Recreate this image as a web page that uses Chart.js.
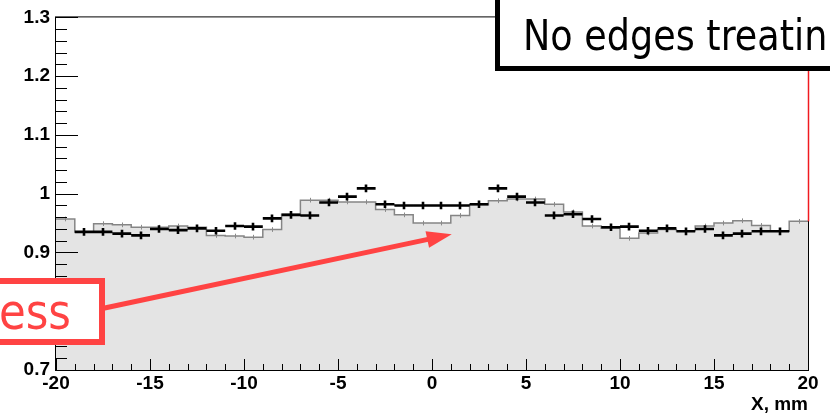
<!DOCTYPE html>
<html>
<head>
<meta charset="utf-8">
<script src="https://cdn.jsdelivr.net/npm/chart.js@4.4.1/dist/chart.umd.min.js"></script>
<style>
html, body { margin: 0; padding: 0; background: #fff; }
canvas { display: block; }
</style>
</head>
<body>
<canvas id="c" width="830" height="417"></canvas>
<script>
let canvas = document.getElementById('c');
let ctx = canvas.getContext('2d');

// simulated profile, 1 mm bins from -20 to 20 mm (left edges)
let histEdges = [-20, -19, -18, -17, -16, -15, -14, -13, -12, -11,
                 -10, -9, -8, -7, -6, -5, -4, -3, -2, -1,
                 0, 1, 2, 3, 4, 5, 6, 7, 8, 9,
                 10, 11, 12, 13, 14, 15, 16, 17, 18, 19];
let histValues = [0.957, 0.935, 0.949, 0.947, 0.943, 0.943, 0.945, 0.943, 0.929, 0.928,
                  0.926, 0.939, 0.965, 0.989, 0.989, 0.986, 0.986, 0.973, 0.964, 0.950,
                  0.950, 0.963, 0.981, 0.988, 0.991, 0.991, 0.982, 0.969, 0.945, 0.941,
                  0.924, 0.933, 0.939, 0.937, 0.945, 0.950, 0.954, 0.946, 0.936, 0.953];
let histErr = 0.004;

// measured points (bin centres)
let dataCenters = [-18.5, -17.5, -16.5, -15.5, -14.5, -13.5, -12.5, -11.5, -10.5, -9.5,
                   -8.5, -7.5, -6.5, -5.5, -4.5, -3.5, -2.5, -1.5, -0.5, 0.5,
                   1.5, 2.5, 3.5, 4.5, 5.5, 6.5, 7.5, 8.5, 9.5, 10.5,
                   11.5, 12.5, 13.5, 14.5, 15.5, 16.5, 17.5, 18.5];
let dataValues = [0.935, 0.935, 0.932, 0.929, 0.940, 0.938, 0.941, 0.937, 0.945, 0.944,
                  0.958, 0.964, 0.963, 0.985, 0.995, 1.009, 0.982, 0.980, 0.980, 0.980,
                  0.980, 0.982, 1.009, 0.995, 0.985, 0.963, 0.965, 0.957, 0.943, 0.944,
                  0.937, 0.941, 0.936, 0.940, 0.929, 0.932, 0.936, 0.936];
let dataErr = 0.0065;
let binWidth = 1;

// red edge marker at x = 20
let edgeX = 20;
let edgeRange = [0.953, 1.3];

let xTicks = [-20, -15, -10, -5, 0, 5, 10, 15, 20];
let yTicks = [0.7, 0.8, 0.9, 1.0, 1.1, 1.2, 1.3];

// arrow tip (in axis units)
let arrowTip = [1.05, 0.931];

let histPoints = histEdges.map((x, i) => ({x: x, y: histValues[i]}));
histPoints.push({x: histEdges[histEdges.length - 1] + binWidth, y: histValues[histValues.length - 1]});

let redC = '#ff4343';

function drawTicks(c, scale, ticks, horizontal, a, majorLen, minorLen){
	c.beginPath();
	for(let i = 0; i < ticks.length; i++){
		let p = scale.getPixelForValue(ticks[i]);
		let list = [[p, majorLen]];
		if(i < ticks.length - 1){
			let step = (ticks[i + 1] - ticks[i]) / 5;
			for(let j = 1; j < 5; j++) list.push([scale.getPixelForValue(ticks[i] + j * step), minorLen]);
		}
		list.forEach(t => {
			let q = Math.round(t[0]) + 0.5;
			if(horizontal){
				c.moveTo(q, a.bottom);
				c.lineTo(q, a.bottom - t[1]);
			}else{
				c.moveTo(a.left, q);
				c.lineTo(a.left + t[1], q);
			}
		});
	}
	c.stroke();
}

function scaledText(c, text, x, y, size, align){
	c.save();
	c.translate(x, y);
	c.scale(0.87, 1);
	c.font = size + 'px "DejaVu Sans", sans-serif';
	c.textAlign = align;
	c.textBaseline = 'alphabetic';
	c.fillText(text, 0, 0);
	c.restore();
}

let rootStyle = {
	id: 'rootStyle',
	afterDatasetsDraw(chart){
		let c = chart.ctx;
		let xs = chart.scales.x, ys = chart.scales.y;
		let a = chart.chartArea;
		c.save();

		// small error ticks of the grey histogram
		c.strokeStyle = '#8a8a8a';
		c.lineWidth = 1;
		c.beginPath();
		for(let i = 0; i < histEdges.length; i++){
			let px = Math.round(xs.getPixelForValue(histEdges[i] + binWidth / 2)) + 0.5;
			c.moveTo(px, ys.getPixelForValue(histValues[i] + histErr));
			c.lineTo(px, ys.getPixelForValue(histValues[i] - histErr));
		}
		c.stroke();

		// frame + inner ticks
		c.strokeStyle = '#000';
		c.lineWidth = 1;
		c.strokeRect(a.left - 0.5, a.top - 0.5, a.right - a.left + 1, a.bottom - a.top + 1);
		drawTicks(c, ys, yTicks, false, a, 22, 11);
		drawTicks(c, xs, xTicks, true, a, 11, 6);

		// measured points
		c.strokeStyle = '#000';
		c.lineWidth = 2.6;
		c.beginPath();
		for(let i = 0; i < dataCenters.length; i++){
			let x0 = xs.getPixelForValue(dataCenters[i] - binWidth / 2);
			let x1 = xs.getPixelForValue(dataCenters[i] + binWidth / 2);
			let xc = Math.round(xs.getPixelForValue(dataCenters[i]));
			let y = ys.getPixelForValue(dataValues[i]);
			c.moveTo(x0, y);
			c.lineTo(x1, y);
			c.moveTo(xc, ys.getPixelForValue(dataValues[i] + dataErr));
			c.lineTo(xc, ys.getPixelForValue(dataValues[i] - dataErr));
		}
		c.stroke();

		// red edge line, drawn over the frame's right side
		let ex = Math.round(xs.getPixelForValue(edgeX)) + 0.5;
		c.strokeStyle = '#f01a20';
		c.lineWidth = 1.5;
		c.beginPath();
		c.moveTo(ex, ys.getPixelForValue(edgeRange[0]));
		c.lineTo(ex, ys.getPixelForValue(edgeRange[1]));
		c.stroke();
		c.restore();
	},
	afterDraw(chart){
		let c = chart.ctx;
		let xs = chart.scales.x, ys = chart.scales.y;
		c.save();

		// arrow from the label box to the dip
		let tx = xs.getPixelForValue(arrowTip[0]), ty = ys.getPixelForValue(arrowTip[1]);
		let sx = 100, sy = 309;
		let dx = tx - sx, dy = ty - sy, len = Math.hypot(dx, dy);
		let ux = dx / len, uy = dy / len;
		let bx = tx - ux * 25, by = ty - uy * 25;
		c.strokeStyle = redC;
		c.fillStyle = redC;
		c.lineWidth = 5;
		c.beginPath();
		c.moveTo(sx, sy);
		c.lineTo(bx + ux * 3, by + uy * 3);
		c.stroke();
		c.beginPath();
		c.moveTo(tx, ty);
		c.lineTo(bx - uy * 8.5, by + ux * 8.5);
		c.lineTo(bx + uy * 8.5, by - ux * 8.5);
		c.closePath();
		c.fill();

		// red label box
		c.fillStyle = '#fff';
		c.fillRect(-10, 281, 112, 61);
		c.lineWidth = 6;
		c.strokeRect(-10, 281, 112, 61);
		c.fillStyle = redC;
		scaledText(c, 'ess', 71, 329, 50, 'right');

		// black caption box
		c.fillStyle = '#fff';
		c.fillRect(497.5, -10, 350, 78.5);
		c.strokeStyle = '#000';
		c.lineWidth = 5;
		c.strokeRect(497.5, -10, 350, 78.5);
		c.fillStyle = '#000';
		scaledText(c, 'No edges treatin', 523, 50, 42, 'left');
		c.restore();
	}
};

let tickFont = {family: '"Liberation Sans", Arial, sans-serif', weight: 'bold', size: 19};

let chart = new Chart(ctx, {
	type: 'line',
	data: {
		datasets: [{
			data: histPoints,
			stepped: true,
			borderColor: '#858585',
			borderWidth: 1.5,
			backgroundColor: '#e4e4e4',
			fill: 'start',
			pointRadius: 0
		}]
	},
	options: {
		responsive: false,
		animation: false,
		devicePixelRatio: 1,
		layout: {padding: {top: 14, right: 22, left: 0, bottom: 0}},
		plugins: {legend: {display: false}, tooltip: {enabled: false}},
		scales: {
			x: {
				type: 'linear',
				min: -20,
				max: 20,
				afterBuildTicks: s => { s.ticks = xTicks.map(v => ({value: v})); },
				afterFit: s => { s.height = 47; },
				grid: {display: false, drawTicks: false},
				border: {display: false},
				ticks: {font: tickFont, color: '#000', padding: 2, maxRotation: 0,
					callback: v => String(v)},
				title: {display: true, text: 'X, mm', align: 'end', color: '#000',
					font: tickFont, padding: {top: 0, bottom: 1}}
			},
			y: {
				type: 'linear',
				min: 0.7,
				max: 1.3,
				afterBuildTicks: s => { s.ticks = yTicks.map(v => ({value: v})); },
				afterFit: s => { s.width = 56; },
				grid: {display: false, drawTicks: false},
				border: {display: false},
				ticks: {font: tickFont, color: '#000', padding: 6,
					callback: v => String(+v.toFixed(1))}
			}
		}
	},
	plugins: [rootStyle]
});
</script>
</body>
</html>
